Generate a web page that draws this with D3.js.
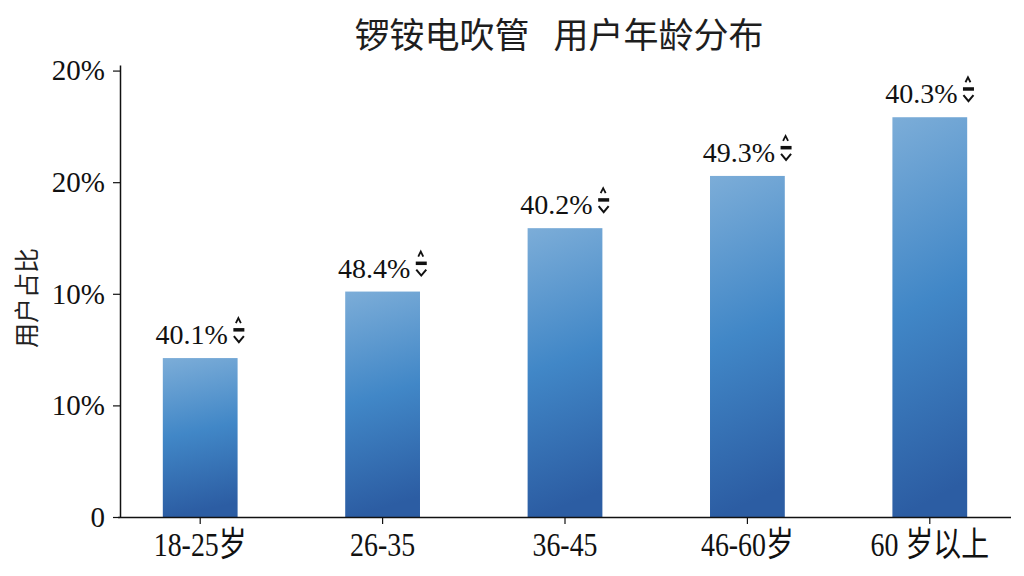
<!DOCTYPE html>
<html>
<head>
<meta charset="utf-8">
<script src="https://cdn.jsdelivr.net/npm/d3@7"></script>
<style>
  html, body { margin: 0; padding: 0; background: #fff; }
  svg { display: block; }
</style>
</head>
<body>
<div id="chart"></div>
<script>
// chart data
const ageGroups = ['18-25岁', '26-35', '36-45', '46-60岁', '60 岁以上'];
const shares = [7.12, 10.1, 12.94, 15.28, 17.91];
const valueLabels = ['40.1%', '48.4%', '40.2%', '49.3%', '40.3%'];
const yTicks = [0, 5, 10, 15, 20];
const yTickLabels = ['0', '10%', '10%', '20%', '20%'];

const width = 1024;
const height = 576;
const serif = '"Liberation Serif", "Times New Roman", "Noto Sans CJK SC", serif';
const sans = '"Noto Sans CJK SC", "Noto Sans", sans-serif';

function drawChart() {
    const svg = d3.select('#chart')
        .append('svg')
        .attr('width', width)
        .attr('height', height);

    svg.append('rect').attr('width', width).attr('height', height).attr('fill', '#fff');

    const grad = svg.append('defs').append('linearGradient')
        .attr('id', 'barGrad')
        .attr('x1', 0).attr('y1', 0).attr('x2', 0.1).attr('y2', 1);
    grad.append('stop').attr('offset', '0%').attr('stop-color', '#7cadd8');
    grad.append('stop').attr('offset', '50%').attr('stop-color', '#4187c7');
    grad.append('stop').attr('offset', '100%').attr('stop-color', '#2c5da3');

    const left = 120, right = 1011, bottom = 517;

    const xScale = d3.scaleBand()
        .domain(ageGroups)
        .range([109, 1021])
        .paddingInner(0.59)
        .paddingOuter(0.295);

    const yScale = d3.scaleLinear().domain([0, 20.25]).range([bottom, 65]);

    // title
    const title = svg.append('text')
        .attr('x', 559)
        .attr('y', 32)
        .attr('text-anchor', 'middle')
        .attr('dominant-baseline', 'central')
        .style('font-family', sans)
        .style('font-size', '35px')
        .attr('fill', '#1e1e1e');
    title.append('tspan').text('锣铵电吹管');
    title.append('tspan').attr('dx', 24).text('用户年龄分布');

    // y axis title
    svg.append('text')
        .attr('transform', 'translate(25, 298) rotate(-90)')
        .attr('text-anchor', 'middle')
        .attr('dominant-baseline', 'central')
        .style('font-family', sans)
        .style('font-size', '25px')
        .attr('fill', '#222')
        .text('用户占比');

    // bars
    svg.append('g').selectAll('rect')
        .data(shares)
        .join('rect')
        .attr('x', (d, i) => xScale(ageGroups[i]))
        .attr('y', (d) => yScale(d))
        .attr('width', xScale.bandwidth())
        .attr('height', (d) => bottom - yScale(d))
        .attr('fill', 'url(#barGrad)');

    // y axis
    const yAxis = d3.axisLeft(yScale)
        .tickValues(yTicks)
        .tickFormat((d, i) => yTickLabels[i])
        .tickSize(7)
        .tickSizeOuter(0)
        .tickPadding(8);
    const gy = svg.append('g').attr('transform', `translate(${left}, 0)`).call(yAxis);
    gy.select('.domain').attr('stroke', '#111').attr('stroke-width', 1.5);
    gy.selectAll('.tick line').attr('stroke', '#111').attr('stroke-width', 1.2);
    gy.selectAll('.tick text')
        .style('font-family', serif)
        .style('font-size', '29px')
        .attr('fill', '#111');

    // x axis
    const xAxis = d3.axisBottom(xScale).tickSize(7).tickSizeOuter(0).tickFormat('');
    const gx = svg.append('g').attr('transform', `translate(0, ${bottom})`).call(xAxis);
    gx.select('.domain').attr('d', `M${left - 2},0.5H${right}`).attr('stroke', '#111').attr('stroke-width', 1.5);
    gx.selectAll('.tick line').attr('stroke', '#111').attr('stroke-width', 1.2);

    svg.append('g').selectAll('text')
        .data(ageGroups)
        .join('text')
        .attr('transform', (d) => `translate(${xScale(d) + xScale.bandwidth() / 2}, 556) scale(0.82, 1)`)
        .attr('text-anchor', 'middle')
        .style('font-family', serif)
        .style('font-size', '34px')
        .attr('fill', '#111')
        .text((d) => d);

    // value labels with the little up/down marker
    const labels = svg.append('g').selectAll('g')
        .data(shares)
        .join('g');

    labels.each(function (d, i) {
        const g = d3.select(this);
        const t = g.append('text')
            .attr('x', 0)
            .attr('y', 0)
            .style('font-family', serif)
            .style('font-size', '28px')
            .attr('fill', '#111')
            .text(valueLabels[i]);
        const tw = t.node().getComputedTextLength();
        const ix = tw + 5;
        const icon = g.append('g').attr('transform', `translate(${ix}, 0)`);
        icon.append('path')
            .attr('d', 'M3,-21 L5.5,-26 L8,-21')
            .attr('fill', 'none').attr('stroke', '#111').attr('stroke-width', 1.8);
        icon.append('rect')
            .attr('x', 0.5).attr('y', -16).attr('width', 11).attr('height', 3.5)
            .attr('fill', '#111');
        icon.append('path')
            .attr('d', 'M1,-8 L6,-2 L11,-8')
            .attr('fill', 'none').attr('stroke', '#111').attr('stroke-width', 2);
        const total = ix + 12;
        const cx = xScale(ageGroups[i]) + xScale.bandwidth() / 2;
        g.attr('transform', `translate(${cx - total / 2}, ${yScale(d) - 14})`);
    });
}

drawChart();
</script>
</body>
</html>
